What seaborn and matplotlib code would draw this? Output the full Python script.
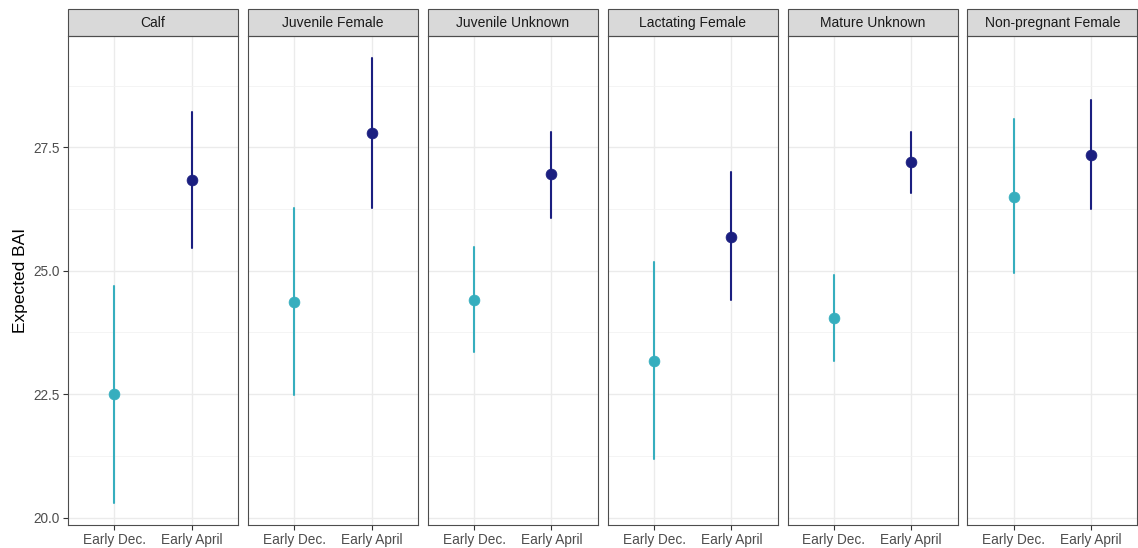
import numpy as np
import pandas as pd
import matplotlib
matplotlib.use("Agg")
import matplotlib.pyplot as plt
from matplotlib.patches import Rectangle
from matplotlib.ticker import FixedLocator, FormatStrFormatter
import seaborn as sns

# ---------------- data ----------------
groups = ["Calf", "Juvenile Female", "Juvenile Unknown",
          "Lactating Female", "Mature Unknown", "Non-pregnant Female"]
periods = ["Early Dec.", "Early April"]

dec_est = [22.50, 24.37, 24.41, 23.18, 24.04, 26.50]
dec_lo  = [20.30, 22.48, 23.36, 21.19, 23.18, 24.96]
dec_hi  = [24.70, 26.26, 25.47, 25.18, 24.91, 28.07]

apr_est = [26.83, 27.78, 26.95, 25.69, 27.20, 27.35]
apr_lo  = [25.45, 26.26, 26.07, 24.41, 26.58, 26.25]
apr_hi  = [28.21, 29.30, 27.81, 26.99, 27.80, 28.45]

y_ticks = [20.0, 22.5, 25.0, 27.5]
y_minor = [21.25, 23.75, 26.25, 28.75]

colors = {"Early Dec.": "#36AEBE", "Early April": "#1B1F80"}

# long table: lo / est / hi per cell; median -> est, range -> (lo, hi)
rows = []
for i, g in enumerate(groups):
    for p, est, lo, hi in [("Early Dec.", dec_est, dec_lo, dec_hi),
                           ("Early April", apr_est, apr_lo, apr_hi)]:
        for v in (lo[i], est[i], hi[i]):
            rows.append({"group": g, "period": p, "BAI": v})
df = pd.DataFrame(rows)

# ---------------- style ----------------
sns.set_theme(style="white")
plt.rcParams["font.family"] = ["Liberation Sans", "DejaVu Sans"]

fig, axes = plt.subplots(1, 6, figsize=(11.38, 5.48), dpi=100, sharey=True)
fig.subplots_adjust(left=0.0598, right=0.9995, bottom=0.042, top=0.934, wspace=0.058)

ymin, ymax = 19.85, 29.75
strip_h = 27 / 489.0

for ax, g in zip(axes, groups):
    sub = df[df["group"] == g]
    sns.pointplot(data=sub, x="period", y="BAI", hue="period", order=periods,
                  hue_order=periods, palette=colors, estimator="median",
                  errorbar=lambda v: (np.min(v), np.max(v)),
                  linestyle="none", markers="o", markersize=7.8,
                  markeredgewidth=0.5,
                  err_kws={"linewidth": 1.5}, legend=False, ax=ax, zorder=3)
    ax.set_xlim(-0.6, 1.6)
    ax.set_ylim(ymin, ymax)
    ax.yaxis.set_major_locator(FixedLocator(y_ticks))
    ax.yaxis.set_minor_locator(FixedLocator(y_minor))
    ax.yaxis.set_major_formatter(FormatStrFormatter("%.1f"))
    ax.set_axisbelow(True)
    ax.grid(True, which="major", color="#EBEBEB", linewidth=1.0)
    ax.grid(True, which="minor", axis="y", color="#F2F2F2", linewidth=0.6)
    ax.set_xlabel("")
    ax.set_ylabel("")
    for s in ax.spines.values():
        s.set_color("#4D4D4D")
        s.set_linewidth(0.8)
    ax.tick_params(axis="both", which="major", direction="out", length=3.5,
                   width=0.8, color="#333333", labelcolor="#4D4D4D",
                   labelsize=9.8, pad=2.5, left=True, bottom=True)
    ax.tick_params(axis="y", which="minor", length=0)
    # facet strip
    ax.add_patch(Rectangle((0, 1), 1, strip_h, transform=ax.transAxes,
                           facecolor="#D9D9D9", edgecolor="#4D4D4D",
                           linewidth=0.8, clip_on=False))
    ax.text(0.5, 1 + strip_h / 2, g, transform=ax.transAxes, ha="center",
            va="center", fontsize=10, color="#1A1A1A")

for ax in axes[1:]:
    ax.tick_params(axis="y", which="major", left=False, labelleft=False)

axes[0].set_ylabel("Expected BAI", fontsize=12.5, color="black", labelpad=4)

fig.savefig("out.png", dpi=100)
